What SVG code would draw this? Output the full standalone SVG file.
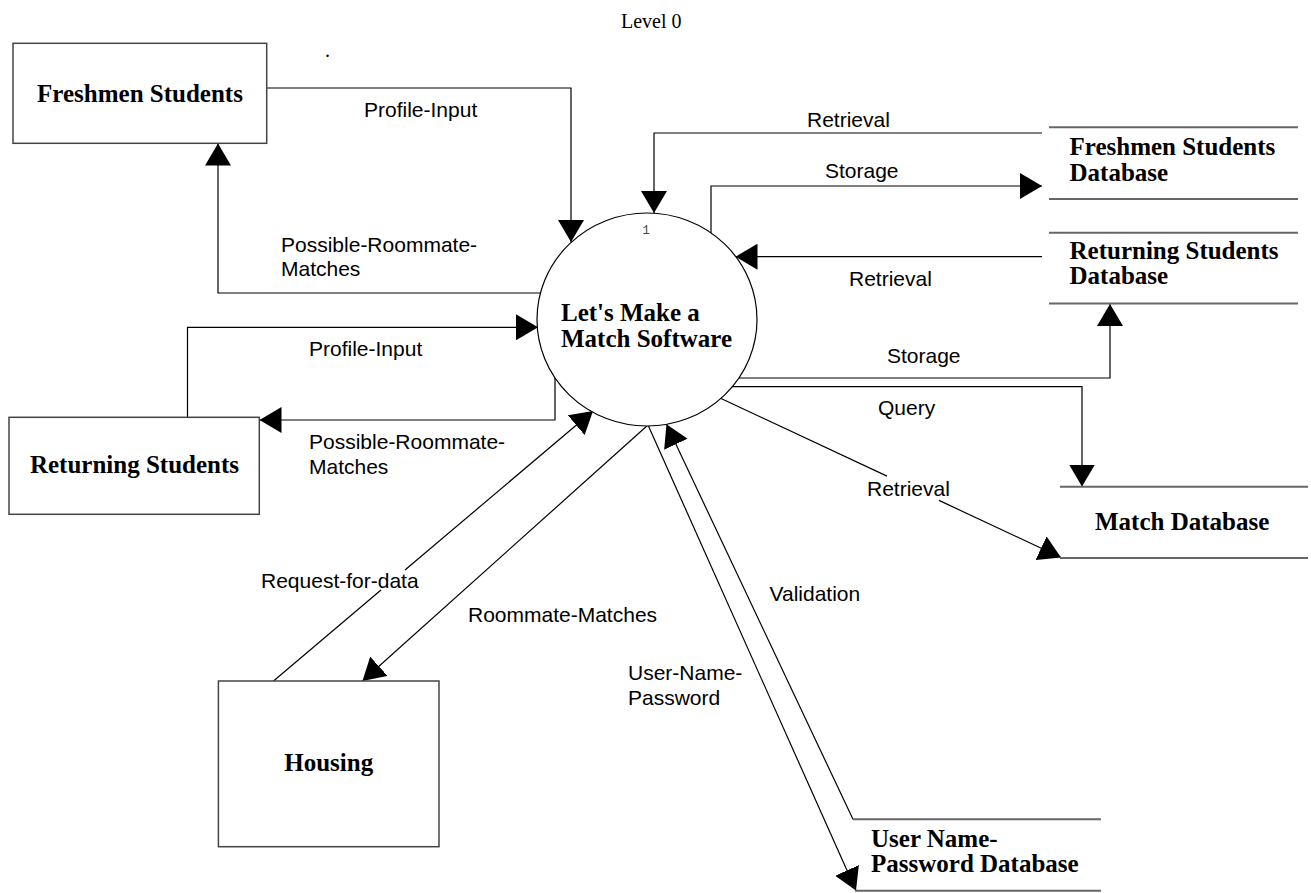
<svg xmlns="http://www.w3.org/2000/svg" width="1311" height="893" viewBox="0 0 1311 893">
<defs>
<marker id="arr" markerUnits="userSpaceOnUse" markerWidth="22" markerHeight="26" refX="22" refY="13" orient="auto" viewBox="0 0 22 26">
<path d="M0,0 L22,13 L0,26 Z" fill="#000"/>
</marker>
</defs>
<style>
.box{fill:#fff;stroke:#444;stroke-width:1.5}
.store{stroke:#666;stroke-width:2;fill:none}
.proc{fill:#fff;stroke:#000;stroke-width:1.2}
.bold{font-family:"Liberation Serif","Times New Roman",serif;font-weight:bold;font-size:25px;fill:#000}
.lbl{font-family:"Liberation Sans",Arial,sans-serif;font-size:21px;fill:#000}
.title{font-family:"Liberation Serif","Times New Roman",serif;font-size:20px;fill:#000}
.num{font-family:"Liberation Mono","Courier New",monospace;font-size:12px;fill:#444}
.c{fill:none;stroke:#000;stroke-width:1.2}
.ca{fill:none;stroke:#000;stroke-width:1.2;marker-end:url(#arr)}
</style>
<rect width="1311" height="893" fill="#fff"/>
<text class="title" x="621" y="28">Level 0</text>
<text class="title" x="325" y="57">.</text>

<g id="connectors">
<path class="ca" d="M267,88 L571,88 L571,242"/>
<path class="ca" d="M540,293 L218,293 L218,143.5"/>
<path class="ca" d="M1042,133 L654,133 L654,213"/>
<path class="ca" d="M711,233 L711,186 L1042,186"/>
<path class="ca" d="M1042,256.7 L735.5,256.7"/>
<path class="ca" d="M739,378 L1110,378 L1110,304"/>
<path class="ca" d="M732,386.7 L1082,386.7 L1082,486.5"/>
<path class="ca" d="M720,398 L887,476.1 M939,500.4 L1061,557.5"/>
<path class="ca" d="M187.5,417 L187.5,327.3 L538,327.3"/>
<path class="ca" d="M555,378 L555,420 L259.5,420"/>
<path class="ca" d="M273.5,681 L381,590 M405,570 L593,411"/>
<path class="ca" d="M648,425 L362.5,681"/>
<path class="ca" d="M648,425 L856,890.5"/>
<path class="ca" d="M853,819.3 L666.5,424.3"/>
</g>

<g id="labels">
<text class="lbl" x="364" y="117">Profile-Input</text>
<text class="lbl" x="281" y="251.5">Possible-Roommate-</text>
<text class="lbl" x="281" y="276">Matches</text>
<text class="lbl" x="807" y="127">Retrieval</text>
<text class="lbl" x="825" y="178">Storage</text>
<text class="lbl" x="849" y="286">Retrieval</text>
<text class="lbl" x="887" y="363">Storage</text>
<text class="lbl" x="878" y="415">Query</text>
<text class="lbl" x="867" y="496">Retrieval</text>
<text class="lbl" x="309" y="356">Profile-Input</text>
<text class="lbl" x="309" y="449">Possible-Roommate-</text>
<text class="lbl" x="309" y="474">Matches</text>
<text class="lbl" x="261" y="588">Request-for-data</text>
<text class="lbl" x="468" y="622">Roommate-Matches</text>
<text class="lbl" x="769.5" y="601">Validation</text>
<text class="lbl" x="628" y="680">User-Name-</text>
<text class="lbl" x="628" y="705">Password</text>
</g>

<g id="freshmen-students">
<rect class="box" x="13" y="43.3" width="253.7" height="100"/>
<text class="bold" x="140" y="101.7" text-anchor="middle">Freshmen Students</text>
</g>

<g id="returning-students">
<rect class="box" x="9" y="417.3" width="250.3" height="97"/>
<text class="bold" x="134.5" y="473" text-anchor="middle">Returning Students</text>
</g>

<g id="housing">
<rect class="box" x="218.4" y="681" width="220.6" height="165.7"/>
<text class="bold" x="328.7" y="771" text-anchor="middle">Housing</text>
</g>

<g id="process">
<ellipse class="proc" cx="647" cy="319.5" rx="110" ry="106.5"/>
<text class="num" x="646" y="234" text-anchor="middle">1</text>
<text class="bold" x="561" y="321">Let's Make a</text>
<text class="bold" x="561" y="347">Match Software</text>
</g>

<g id="freshmen-db">
<line class="store" x1="1049" y1="127.3" x2="1298" y2="127.3"/>
<line class="store" x1="1049" y1="199" x2="1298" y2="199"/>
<text class="bold" x="1069.5" y="155">Freshmen Students</text>
<text class="bold" x="1069.5" y="180.7">Database</text>
</g>

<g id="returning-db">
<line class="store" x1="1049" y1="232.7" x2="1298" y2="232.7"/>
<line class="store" x1="1049" y1="303.5" x2="1298" y2="303.5"/>
<text class="bold" x="1069.5" y="258.5">Returning Students</text>
<text class="bold" x="1069.5" y="284">Database</text>
</g>

<g id="match-db">
<line class="store" x1="1060" y1="486.7" x2="1308" y2="486.7"/>
<line class="store" x1="1060" y1="558" x2="1308" y2="558"/>
<text class="bold" x="1095" y="530">Match Database</text>
</g>

<g id="user-db">
<line class="store" x1="853" y1="819.3" x2="1101" y2="819.3"/>
<line class="store" x1="855" y1="890.7" x2="1101" y2="890.7"/>
<text class="bold" x="871" y="847">User Name-</text>
<text class="bold" x="871" y="872">Password Database</text>
</g>
</svg>
